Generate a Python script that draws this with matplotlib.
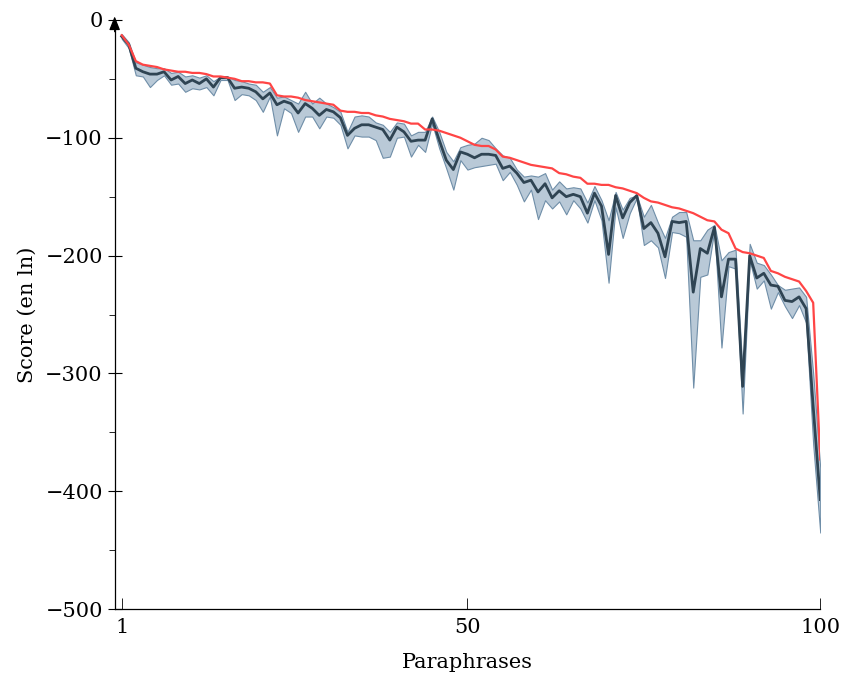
import numpy as np
import matplotlib
matplotlib.use("Agg")
import matplotlib.pyplot as plt
from matplotlib.ticker import MultipleLocator

# paraphrase rank 1..100
ranks = np.arange(1, 101)

# best score (red line)
best = [-13, -21, -35, -38, -39, -40, -42, -43, -44, -44,
        -45, -45, -46, -48, -48, -49, -50, -52, -52, -53,
        -53, -54, -64, -65, -65, -66, -68, -69, -70, -71,
        -72, -77, -78, -78, -79, -79, -81, -82, -84, -85,
        -86, -88, -88, -93, -93, -94, -96, -98, -100, -103,
        -106, -107, -107, -110, -116, -117, -119, -121, -123, -124,
        -125, -126, -130, -131, -133, -134, -139, -139, -140, -140,
        -142, -143, -145, -147, -151, -154, -155, -157, -159, -160,
        -162, -164, -167, -170, -171, -178, -181, -194, -197, -198,
        -200, -202, -213, -215, -218, -220, -222, -230, -240, -373]

# mean score (dark line)
mean = [-14, -21, -41, -44, -46, -46, -44, -51, -48, -54,
        -51, -54, -50, -57, -49, -49, -58, -57, -58, -61,
        -67, -62, -72, -69, -71, -79, -71, -75, -81, -76,
        -78, -83, -98, -92, -89, -89, -91, -93, -102, -91,
        -95, -103, -102, -102, -84, -102, -119, -127, -112, -114,
        -117, -114, -114, -115, -126, -124, -130, -138, -136, -146,
        -139, -151, -145, -150, -148, -150, -164, -147, -158, -199,
        -149, -168, -155, -149, -177, -172, -181, -201, -171, -172,
        -171, -231, -194, -198, -176, -235, -203, -203, -311, -200,
        -219, -215, -225, -226, -238, -239, -235, -245, -328, -407]

# band: upper and lower envelope
upper = [-12, -19, -36, -38, -40, -41, -41, -45, -44, -48,
         -47, -49, -47, -52, -48, -48, -51, -52, -54, -55,
         -61, -57, -66, -65, -68, -71, -61, -71, -66, -71,
         -74, -78, -95, -82, -81, -82, -87, -89, -95, -87,
         -88, -98, -95, -95, -82, -95, -112, -120, -108, -106,
         -105, -100, -102, -109, -115, -117, -127, -133, -132, -133,
         -130, -144, -137, -143, -142, -143, -155, -141, -153, -170,
         -146, -161, -151, -149, -167, -157, -172, -185, -167, -163,
         -163, -187, -187, -178, -174, -204, -197, -195, -300, -190,
         -206, -208, -216, -225, -229, -228, -227, -235, -300, -380]

lower = [-16, -24, -47, -48, -57, -51, -47, -55, -54, -61,
         -58, -59, -57, -64, -51, -51, -68, -63, -64, -68,
         -78, -65, -98, -75, -79, -95, -82, -82, -92, -82,
         -83, -89, -109, -98, -99, -99, -102, -117, -116, -100,
         -99, -116, -106, -112, -88, -109, -126, -144, -119, -127,
         -125, -124, -123, -122, -136, -129, -140, -154, -144, -169,
         -153, -160, -154, -165, -153, -160, -172, -153, -170, -223,
         -159, -185, -164, -151, -191, -187, -193, -219, -180, -181,
         -184, -312, -218, -216, -178, -278, -209, -211, -334, -204,
         -228, -221, -245, -231, -243, -253, -242, -257, -360, -435]

plt.rcParams["font.family"] = ["DejaVu Serif"]
plt.rcParams["font.size"] = 15

fig = plt.figure(figsize=(8.43, 6.86), dpi=100)
ax = fig.add_axes([0.136, 0.112, 0.837, 0.859])

ax.fill_between(ranks, lower, upper, facecolor="#b9c9d7", edgecolor="#6f8ea8",
                lw=0.8, zorder=1)
ax.plot(ranks, best, color="#ff4545", lw=1.6, zorder=3)
ax.plot(ranks, mean, color="#2f4453", lw=2.0, zorder=2)

ax.set_xlim(0, 100)
ax.set_ylim(-500, 0)
ax.set_xticks([1, 50, 100])
ax.set_yticks([0, -100, -200, -300, -400, -500])
ax.yaxis.set_minor_locator(MultipleLocator(50))

for s in ("top", "right"):
    ax.spines[s].set_visible(False)
ax.spines["left"].set_linewidth(0.9)
ax.spines["bottom"].set_linewidth(0.9)
ax.tick_params(axis="x", direction="in", length=8, width=0.6, pad=6)
ax.tick_params(axis="y", which="major", direction="inout", length=10, width=0.8)
ax.tick_params(axis="y", which="minor", direction="out", length=4, width=0.6)

# arrow head on the y axis
ax.annotate("", xy=(0, 1.006), xytext=(0, 0.98), xycoords="axes fraction",
            arrowprops=dict(arrowstyle="-|>,head_length=0.55,head_width=0.22",
                            color="black", lw=0.9, shrinkA=0, shrinkB=0),
            annotation_clip=False)

ax.set_xlabel("Paraphrases", labelpad=12)
ax.set_ylabel("Score (en ln)", labelpad=6)

fig.savefig("out.png", dpi=100)
